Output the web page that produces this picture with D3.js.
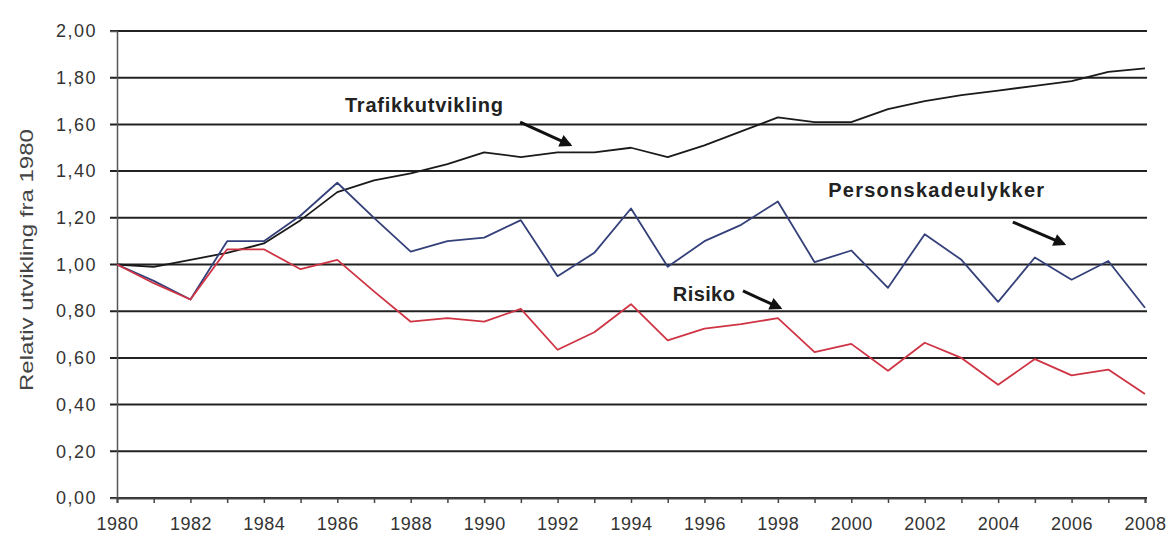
<!DOCTYPE html>
<html>
<head>
<meta charset="utf-8">
<script src="https://cdn.jsdelivr.net/npm/d3@7"></script>
<style>
  body { margin: 0; background: #fff; }
  svg { display: block; }
</style>
</head>
<body>
<div id="chart"></div>
<script>
"use strict";

// data
var years = d3.range(1980, 2009);
var trafikk = [1.00, 0.99, 1.02, 1.05, 1.09, 1.19, 1.31, 1.36, 1.39, 1.43,
               1.48, 1.46, 1.48, 1.48, 1.50, 1.46, 1.51, 1.57, 1.63, 1.61,
               1.61, 1.665, 1.70, 1.725, 1.745, 1.765, 1.785, 1.825, 1.84];
var personskade = [1.00, 0.93, 0.85, 1.10, 1.10, 1.21, 1.35, 1.20, 1.055, 1.10,
                   1.115, 1.19, 0.95, 1.05, 1.24, 0.99, 1.10, 1.17, 1.27, 1.01,
                   1.06, 0.90, 1.13, 1.02, 0.84, 1.03, 0.935, 1.015, 0.815];
var risiko = [1.00, 0.92, 0.85, 1.065, 1.065, 0.98, 1.02, 0.885, 0.755, 0.77,
              0.755, 0.81, 0.635, 0.71, 0.83, 0.675, 0.725, 0.745, 0.77, 0.625,
              0.66, 0.545, 0.665, 0.60, 0.485, 0.595, 0.525, 0.55, 0.445];
var yTicks = [0, 0.2, 0.4, 0.6, 0.8, 1.0, 1.2, 1.4, 1.6, 1.8, 2.0];

// annotations: label, text position, arrow from/to (year, value)
var notes = [
  {text: "Trafikkutvikling", x: 1986.21, y: 1.653, len: 158,
   from: [1990.98, 1.61], to: [1992.34, 1.512]},
  {text: "Personskadeulykker", x: 1999.37, y: 1.289, len: 216,
   from: [2004.40, 1.182], to: [2005.79, 1.088]},
  {text: "Risiko", x: 1995.14, y: 0.844, len: 62,
   from: [1997.05, 0.887], to: [1998.06, 0.814]}
];

var width = 1170, height = 537;

var x = d3.scaleLinear().domain([1980, 2008]).range([117, 1145]);
var y = d3.scaleLinear().domain([0, 2]).range([498, 31]);

var svg = d3.select("#chart").append("svg")
    .attr("width", width)
    .attr("height", height);

svg.append("defs").append("marker")
    .attr("id", "head")
    .attr("viewBox", "0 0 10 10")
    .attr("refX", 8).attr("refY", 5)
    .attr("markerWidth", 5).attr("markerHeight", 4.2)
    .attr("markerUnits", "strokeWidth")
    .attr("orient", "auto")
  .append("path")
    .attr("d", "M0,0L10,5L0,10Z")
    .attr("fill", "#111");

// horizontal grid lines
svg.append("g").selectAll("line")
    .data(yTicks)
  .enter().append("line")
    .attr("x1", 110)
    .attr("x2", 1147)
    .attr("y1", function(d) { return y(d); })
    .attr("y2", function(d) { return y(d); })
    .attr("stroke", "#222")
    .attr("stroke-width", 2);

// y axis
var yAxis = svg.append("g")
    .attr("transform", "translate(" + x(1980) + ",0)")
    .call(d3.axisLeft(y)
      .tickValues(yTicks)
      .tickSize(7)
      .tickPadding(13)
      .tickFormat(function(d) { return d3.format(".2f")(d).replace(".", ","); }));
yAxis.select(".domain").attr("stroke", "#555").attr("stroke-width", 1.5);
yAxis.selectAll(".tick line").remove();
yAxis.selectAll("text")
    .attr("font-family", "'Liberation Sans', Arial, sans-serif")
    .attr("font-size", 18)
    .attr("letter-spacing", 1.5)
    .attr("fill", "#333");

// x axis
var xAxis = svg.append("g")
    .attr("transform", "translate(0," + y(0) + ")")
    .call(d3.axisBottom(x)
      .tickValues(years)
      .tickSize(5)
      .tickPadding(14)
      .tickFormat(function(d) { return d % 2 === 0 ? String(d) : ""; }));
xAxis.select(".domain").attr("stroke", "#444").attr("stroke-width", 2);
xAxis.selectAll(".tick line").attr("stroke", "#444").attr("stroke-width", 1.5);
xAxis.selectAll("text")
    .attr("font-family", "'Liberation Sans', Arial, sans-serif")
    .attr("font-size", 18)
    .attr("letter-spacing", 0.5)
    .attr("fill", "#333");

// y axis title
svg.append("text")
    .attr("transform", "translate(33,260) rotate(-90)")
    .attr("text-anchor", "middle")
    .attr("font-family", "'Liberation Sans', Arial, sans-serif")
    .attr("font-size", 19)
    .attr("fill", "#444")
    .attr("textLength", 262)
    .attr("lengthAdjust", "spacingAndGlyphs")
    .text("Relativ utvikling fra 1980");

// lines
var line = d3.line()
    .x(function(d, i) { return x(years[i]); })
    .y(function(d) { return y(d); });

var series = [
  {values: trafikk, color: "#1a1a1a"},
  {values: personskade, color: "#34407a"},
  {values: risiko, color: "#cf3445"}
];

svg.append("g").selectAll("path")
    .data(series)
  .enter().append("path")
    .attr("d", function(d) { return line(d.values); })
    .attr("fill", "none")
    .attr("stroke", function(d) { return d.color; })
    .attr("stroke-width", 1.8)
    .attr("stroke-linejoin", "round");

// annotations
var note = svg.append("g").selectAll("g")
    .data(notes)
  .enter().append("g");

note.append("text")
    .attr("x", function(d) { return x(d.x); })
    .attr("y", function(d) { return y(d.y); })
    .attr("font-family", "'Liberation Sans', Arial, sans-serif")
    .attr("font-weight", "bold")
    .attr("font-size", 20)
    .attr("fill", "#222")
    .attr("textLength", function(d) { return d.len; })
    .attr("lengthAdjust", "spacing")
    .text(function(d) { return d.text; });

note.append("line")
    .attr("x1", function(d) { return x(d.from[0]); })
    .attr("y1", function(d) { return y(d.from[1]); })
    .attr("x2", function(d) { return x(d.to[0]); })
    .attr("y2", function(d) { return y(d.to[1]); })
    .attr("stroke", "#111")
    .attr("stroke-width", 3)
    .attr("marker-end", "url(#head)");
</script>
</body>
</html>
